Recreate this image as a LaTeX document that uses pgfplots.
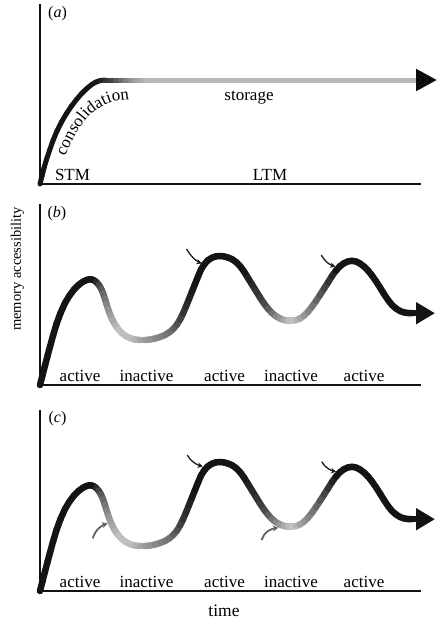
\documentclass[border=0pt]{standalone}
\usepackage{fontspec}
\setmainfont{Liberation Serif}
\usepackage{pgfplots}
\usepackage{pgfplotstable}
\pgfplotsset{compat=1.18}
\usetikzlibrary{arrows.meta,decorations.text}

% panel (a): consolidation curve
\pgfplotstableread{
x y
0 0
2 8
4 16
6.5 24.5
9.5 33.5
13 43.5
17 53
21.5 62
26.5 70.5
31.5 78
36.5 84.5
41.5 90.3
46.5 95.2
51 99
55.5 101.8
60 103.4
65 104
70 104
75 104
80 104
85 104
90 104
95 104
100 104
105 104
110 104
120 104
374 104
}\curveA

% panels (b) and (c): oscillating accessibility
\pgfplotstableread{
x y
0 0
2.5 9.8
5 19.5
7.5 29
10 38.3
13 49.3
16.5 61
20.5 72
25 82
29.5 89.5
34 95.5
38.5 100
43 103.3
47 105.2
50 105.8
53 105.2
56 103.3
58.7 100.3
61 96.5
63 92
64.8 86.5
66.5 81
68.2 75.5
70.2 70
72.5 65
75.3 60
78.5 55.5
82 51.8
86 48.8
90.5 46.7
95 45.5
100 45
105 45
110 45.5
115 46.5
120 48
125 50
129.5 52.8
133.5 56.3
137 60.5
140 65.5
143 71.5
146 78.5
149 86
152 93.5
155 101
158 108.5
161 115.5
164.5 121
168 124.8
172 127.3
176 128.7
180 129
184 128.6
188 127.5
192 125.8
196 123
200 119
204 113.5
208 107
212 100.5
216 94
220 87.5
224 81.5
228 76.3
232 72
236 68.8
240 66.5
244 65
248 64.3
252 64.3
256 64.9
260 66.5
264 69.3
268 73.3
272 78.3
276 84
280 90
284 96.3
288 102.5
292 109
296 114.5
300 118.8
304 121.8
308 123.6
312 124.2
316 123.5
320 121.5
324 118.5
328 114.5
332 109.5
336 103.8
340 97.5
344 91
348 85
352 80
356 76.5
360 74
364 72.6
368 72
372 71.8
}\curveB

\pgfplotsset{
  colormap={mapA}{gray(0cm)=(0.08); gray(57cm)=(0.08); gray(72cm)=(0.25); gray(87cm)=(0.5); gray(100cm)=(0.66); gray(110cm)=(0.73); gray(400cm)=(0.73)},
  colormap={mapB}{gray(0cm)=(0.08); gray(55cm)=(0.08); gray(62cm)=(0.35); gray(70cm)=(0.6); gray(80cm)=(0.75); gray(92cm)=(0.75); gray(108cm)=(0.6); gray(131cm)=(0.45); gray(145cm)=(0.2); gray(155cm)=(0.08); gray(205cm)=(0.08); gray(225cm)=(0.27); gray(238cm)=(0.53); gray(253cm)=(0.78); gray(265cm)=(0.6); gray(278cm)=(0.4); gray(290cm)=(0.2); gray(298cm)=(0.08); gray(400cm)=(0.08)},
  panel/.style={scale only axis, width=380pt, xmin=0, xmax=380, ymin=0,
    axis x line=bottom, axis y line=left,
    axis line style={-, line width=2.5pt, color=black!93, line cap=rect},
    xtick=\empty, ytick=\empty, clip=false,
    point meta min=0, point meta max=400, anchor=south west},
}
\tikzset{
  lbl/.style={font=\fontsize{17}{17}\selectfont, anchor=base, inner sep=0pt},
  thinarrow/.style={smooth, line width=1.3pt, black!90, -{Stealth[length=5pt,width=5.5pt]}},
  grayarrow/.style={smooth, line width=1.8pt, black!62, -{Stealth[length=5.5pt,width=6pt]}},
}

\begin{document}
\begin{tikzpicture}
\useasboundingbox (0pt,0pt) rectangle (438pt,-624pt);

% ---------------- (a)
\begin{axis}[panel, height=179pt, ymax=179, at={(40pt,-184pt)}, colormap name=mapA]
\addplot[mesh, point meta=x, line width=5pt, line cap=round, line join=round] table {\curveA};
\addplot[black!27, line width=5pt, -{Triangle[length=21pt,width=21pt,color=black!95]}] coordinates {(372,104) (397,104)};
\addplot[draw=none, smooth, postaction={decorate},
  decoration={text along path, text={|\fontsize{17}{17}\selectfont|consolidation}, text align=left}]
  coordinates {(25,28) (29.5,37.5) (35,48.5) (42.5,60) (50.5,69.5) (61,77) (72,82) (89,84.5) (115,85)};
\node[lbl, font=\fontsize{16}{16}\selectfont] at (axis cs:17.5,167) {(\textit{a})};
\node[lbl] at (axis cs:209,84) {storage};
\node[lbl] at (axis cs:32.5,3.3) {STM};
\node[lbl] at (axis cs:230,3.3) {LTM};
\end{axis}

% ---------------- (b)
\begin{axis}[panel, height=180pt, ymax=180, at={(40pt,-385pt)}, colormap name=mapB]
\addplot[mesh, point meta=x, line width=6.5pt, line cap=round, line join=round] table {\curveB};
\addplot[black!92, line width=6.5pt, -{Triangle[length=19pt,width=21pt]}] coordinates {(370,71.8) (395,71.8)};
\addplot[thinarrow] coordinates {(146.5,136) (149.5,131.5) (153.5,126.8) (158,123.3) (161.5,121.8)};
\addplot[thinarrow] coordinates {(281.3,130) (284,126) (287.5,122.3) (291.5,119.8) (295.3,118.6)};
\node[lbl, font=\fontsize{16}{16}\selectfont] at (axis cs:17,167.5) {(\textit{b})};
\node[lbl] at (axis cs:40,3.5) {active};
\node[lbl] at (axis cs:106.5,3.5) {inactive};
\node[lbl] at (axis cs:184.5,3.5) {active};
\node[lbl] at (axis cs:251,3.5) {inactive};
\node[lbl] at (axis cs:324,3.5) {active};
\node[lbl, font=\fontsize{14.5}{14.5}\selectfont, rotate=90] at (axis cs:-19,116) {memory accessibility};
\end{axis}

% ---------------- (c)
\begin{axis}[panel, height=179.5pt, ymax=179.5, at={(40pt,-591pt)}, colormap name=mapB]
\addplot[mesh, point meta=x, line width=6.5pt, line cap=round, line join=round] table {\curveB};
\addplot[black!92, line width=6.5pt, -{Triangle[length=19pt,width=21pt]}] coordinates {(370,71.8) (395,71.8)};
\addplot[thinarrow] coordinates {(147.3,136) (150,132) (153.5,128.8) (158,126) (162.7,124.5)};
\addplot[thinarrow] coordinates {(281.7,129.3) (284.5,125.5) (288.3,122.3) (292,120.3) (296,119.3)};
\addplot[grayarrow] coordinates {(52.7,52.7) (55,58) (58.5,62.5) (63,65.8) (67.5,67.5)};
\addplot[grayarrow] coordinates {(221.7,51) (224,56) (228,60) (233,62.3) (238.3,63.2)};
\node[lbl, font=\fontsize{16}{16}\selectfont] at (axis cs:17.5,169) {(\textit{c})};
\node[lbl] at (axis cs:40,3.5) {active};
\node[lbl] at (axis cs:106.5,3.5) {inactive};
\node[lbl] at (axis cs:184.5,3.5) {active};
\node[lbl] at (axis cs:251,3.5) {inactive};
\node[lbl] at (axis cs:324,3.5) {active};
\node[lbl, font=\fontsize{17.5}{17.5}\selectfont] at (axis cs:184,-25.7) {time};
\end{axis}
\end{tikzpicture}
\end{document}
